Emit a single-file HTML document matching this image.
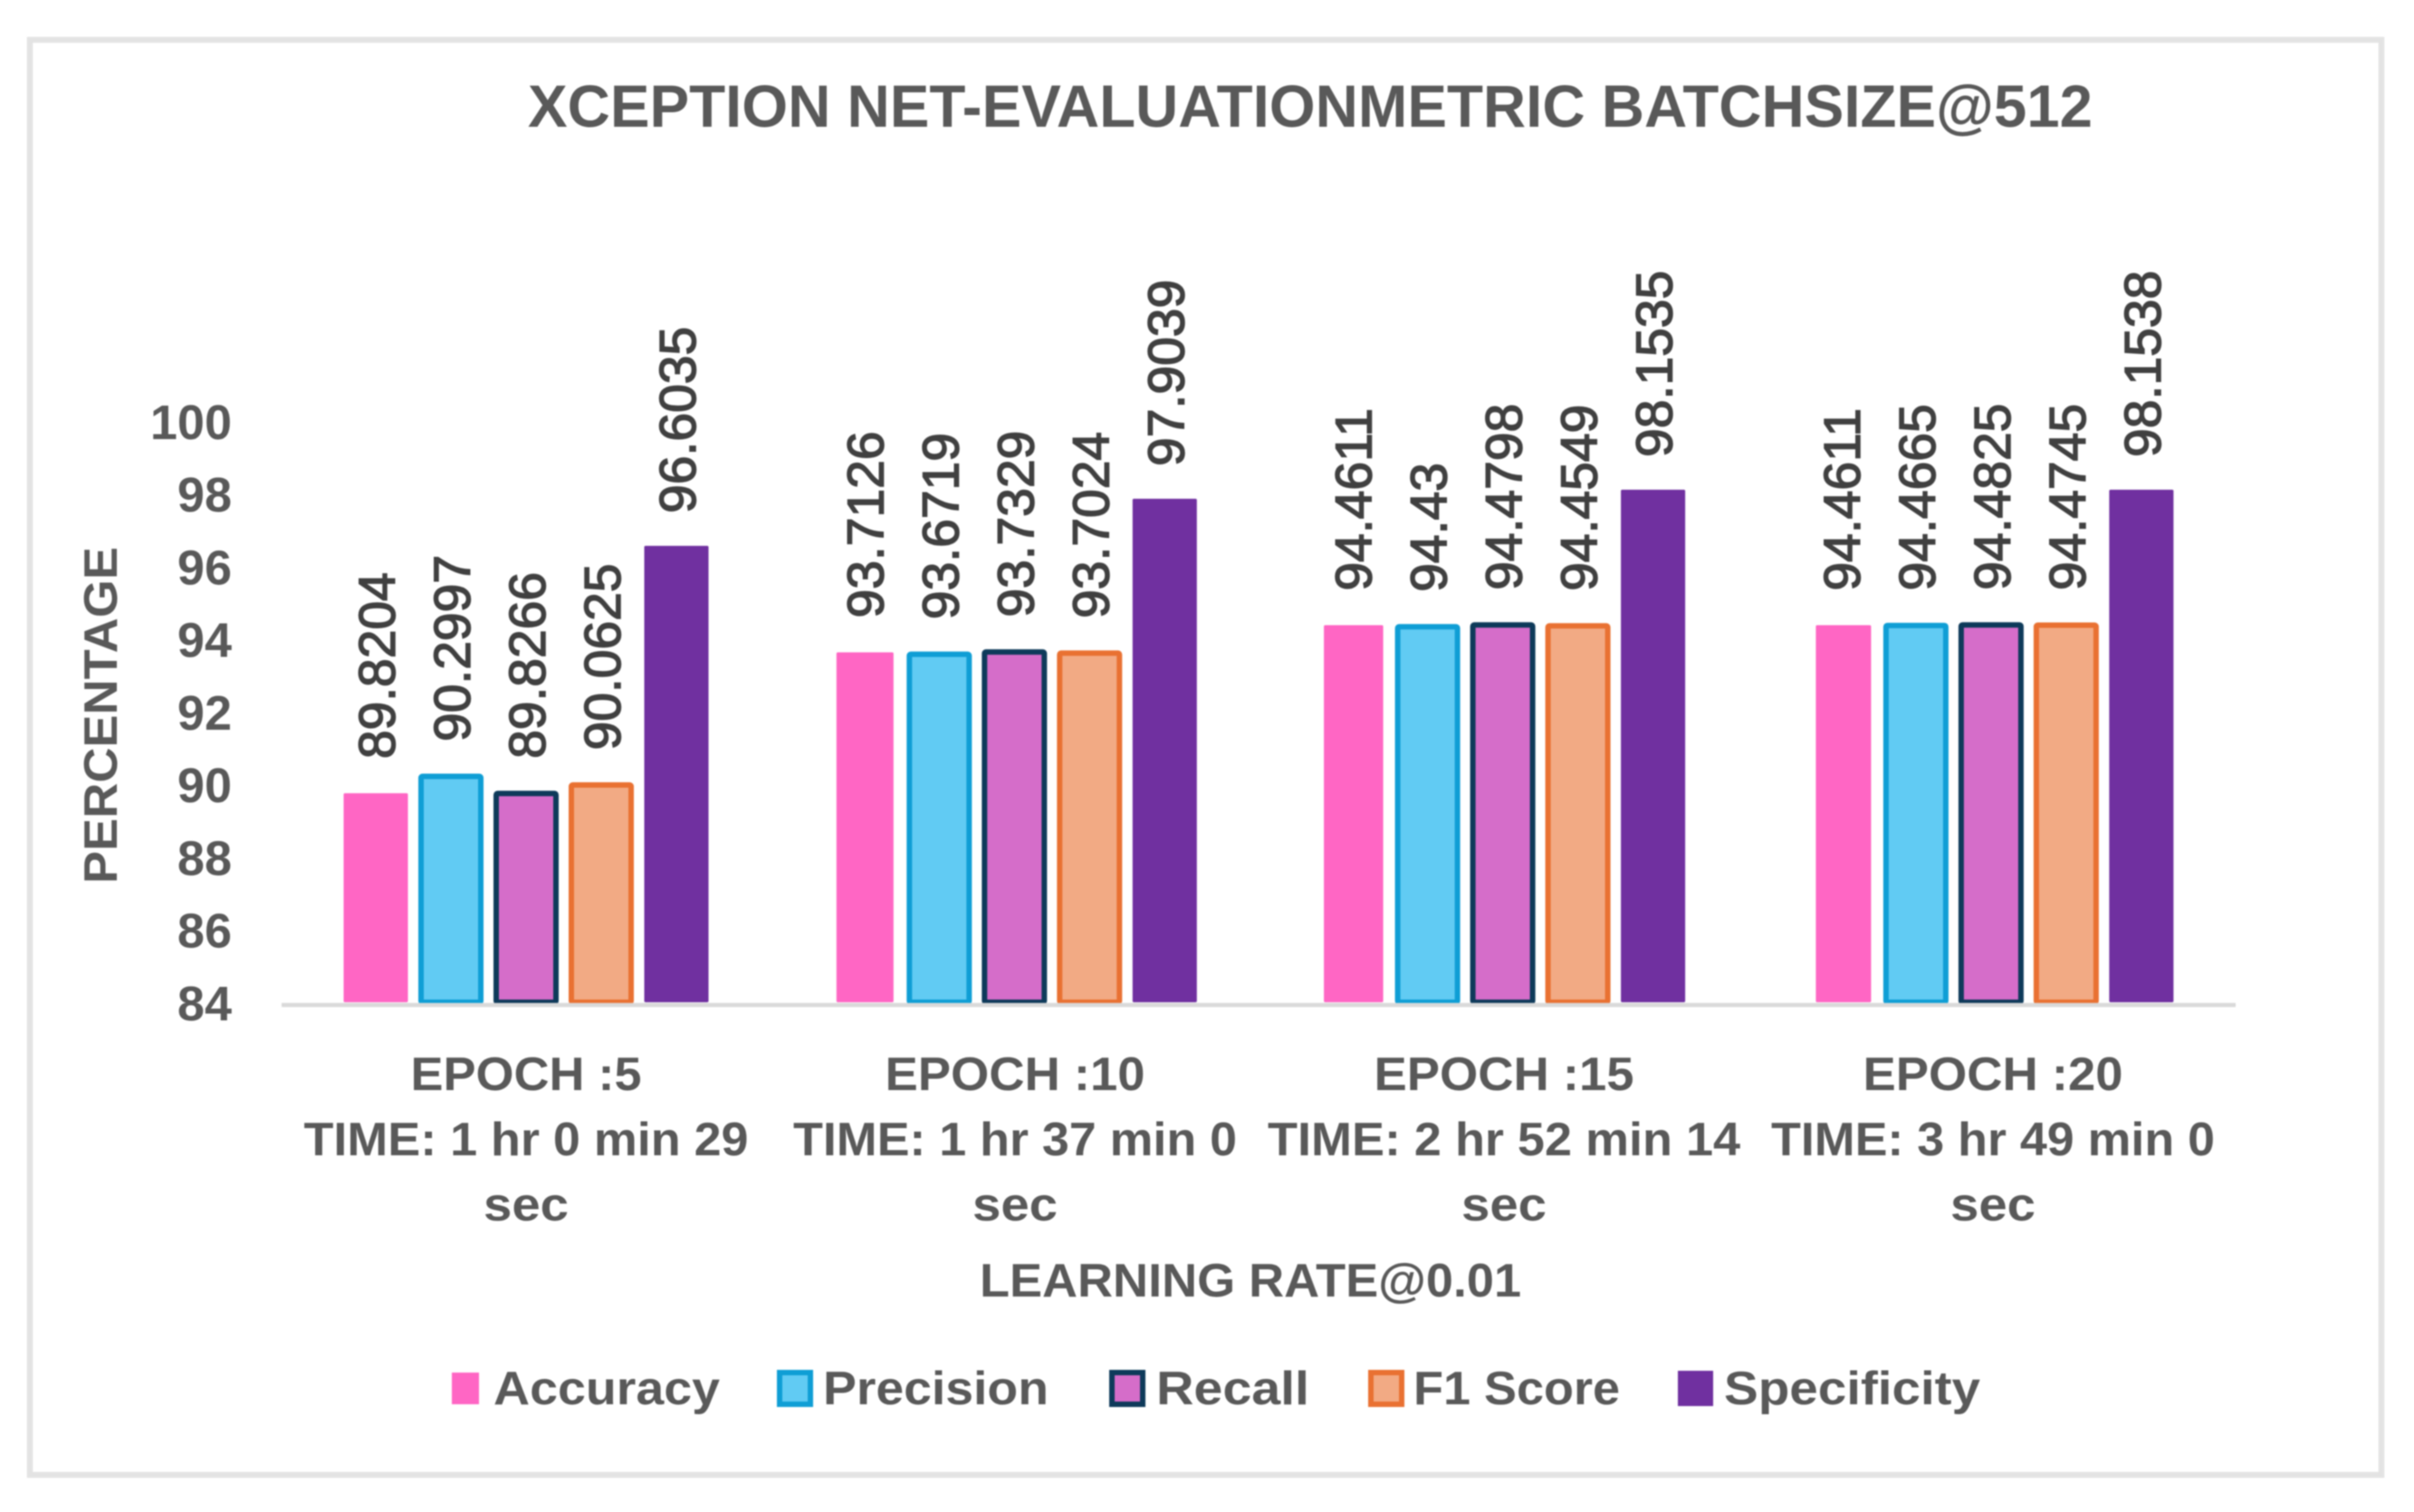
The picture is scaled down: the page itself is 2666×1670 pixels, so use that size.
<!DOCTYPE html>
<html lang="en">
<head>
<meta charset="utf-8">
<title>Xception Net evaluation metric chart</title>
<style>
  html, body { margin: 0; padding: 0; background: #fff; }
  body { width: 2666px; height: 1670px; overflow: hidden; }
  svg { display: block; filter: blur(0.9px); }
  text { font-family: "Liberation Sans", sans-serif; fill: #595959; font-weight: 700; }
  .data-label { font-weight: 400; fill: #404040; stroke: #404040; stroke-width: 1.5px; font-size: 57px; }
</style>
</head>
<body>
<svg id="chart" xmlns="http://www.w3.org/2000/svg" width="2666" height="1670" viewBox="0 0 2666 1670">
  <rect x="0" y="0" width="2666" height="1670" fill="#ffffff"/>
  <rect x="33" y="44" width="2597" height="1585" fill="#ffffff" stroke="#e3e3e3" stroke-width="6.5"/>
  <text x="583" y="140" font-size="66" textLength="1728" lengthAdjust="spacingAndGlyphs">XCEPTION NET-EVALUATIONMETRIC BATCHSIZE@512</text>
  <text transform="translate(129 976) rotate(-90)" font-size="52" textLength="372" lengthAdjust="spacingAndGlyphs">PERCENTAGE</text>
  <text x="1082" y="1432" font-size="52" textLength="598" lengthAdjust="spacingAndGlyphs">LEARNING RATE@0.01</text>
  <g id="y-ticks"></g>
  <g id="bars"></g>
  <g id="labels"></g>
  <line x1="311" y1="1110" x2="2469" y2="1110" stroke="#d9d9d9" stroke-width="4.5"/>
  <g id="x-ticks"></g>
  <g>
    <g>
      <rect x="499" y="1516" width="30" height="35" fill="#ff66c4"/>
      <text x="545" y="1551" font-size="52" textLength="250" lengthAdjust="spacingAndGlyphs">Accuracy</text>
    </g>
    <g>
      <rect x="861" y="1516" width="34" height="35" fill="#61cbf3" stroke="#0f9ed5" stroke-width="6"/>
      <text x="909" y="1551" font-size="52" textLength="249" lengthAdjust="spacingAndGlyphs">Precision</text>
    </g>
    <g>
      <rect x="1228" y="1516" width="34" height="35" fill="#d56dc9" stroke="#0e3a5a" stroke-width="6"/>
      <text x="1277" y="1551" font-size="52" textLength="169" lengthAdjust="spacingAndGlyphs">Recall</text>
    </g>
    <g>
      <rect x="1514" y="1516" width="34" height="35" fill="#f2aa84" stroke="#e97132" stroke-width="6"/>
      <text x="1561" y="1551" font-size="52" textLength="228" lengthAdjust="spacingAndGlyphs">F1 Score</text>
    </g>
    <g>
      <rect x="1853" y="1514" width="39" height="39" fill="#7030a0"/>
      <text x="1904" y="1551" font-size="52" textLength="283" lengthAdjust="spacingAndGlyphs">Specificity</text>
    </g>
  </g>
</svg>
<script>
const epochLabels = ["EPOCH :5", "EPOCH :10", "EPOCH :15", "EPOCH :20"];
const timeLabels = ["TIME: 1 hr 0 min 29", "TIME: 1 hr 37 min 0", "TIME: 2 hr 52 min 14", "TIME: 3 hr 49 min 0"];
const secLabel = "sec";
const yTickLabels = [84, 86, 88, 90, 92, 94, 96, 98, 100];
const accuracy = [89.8204, 93.7126, 94.4611, 94.4611];
const precision = [90.2997, 93.6719, 94.43, 94.4665];
const recall = [89.8266, 93.7329, 94.4798, 94.4825];
const f1Score = [90.0625, 93.7024, 94.4549, 94.4745];
const specificity = [96.6035, 97.9039, 98.1535, 98.1538];

const NS = "http://www.w3.org/2000/svg";
function yScale(v) { return 1107 - (v - 84) * 40; }
function groupCenter(i) { return 581 + i * 539.3; }
function slotCenter(i, s) { return groupCenter(i) + (s - 2) * 83; }
function labelCenter(i) { return 581 + i * 540; }
function make(tag, attrs, text) {
  const node = document.createElementNS(NS, tag);
  for (const k in attrs) node.setAttribute(k, attrs[k]);
  if (text !== undefined) node.textContent = text;
  return node;
}

const seriesList = [
  { key: "accuracy", values: accuracy, fill: "#ff66c4", stroke: null },
  { key: "precision", values: precision, fill: "#61cbf3", stroke: "#0f9ed5" },
  { key: "recall", values: recall, fill: "#d56dc9", stroke: "#0e3a5a" },
  { key: "f1-score", values: f1Score, fill: "#f2aa84", stroke: "#e97132" },
  { key: "specificity", values: specificity, fill: "#7030a0", stroke: null }
];

const yGroup = document.getElementById("y-ticks");
yTickLabels.forEach(function (t) {
  const tick = make("text", { x: 256, y: yScale(t) + 18 + (100 - t) * 0.12, "text-anchor": "end", "font-size": 54 }, String(t));
  
  
  yGroup.appendChild(tick);
});

const barGroup = document.getElementById("bars");
const labelGroup = document.getElementById("labels");
const pinkLeftTrim = [0, 5, 4, 8];
const pinkRightTrim = [0, 3, 1.5, 2];
const halfWidth = 35.5;
seriesList.forEach(function (series, s) {
  series.values.forEach(function (v, i) {
    const cx = slotCenter(i, s);
    const top = yScale(v);
    let left = cx - halfWidth;
    let width = halfWidth * 2;
    let barTop = top;
    if (s === 0) {
      left += pinkLeftTrim[i];
      width -= pinkLeftTrim[i] + pinkRightTrim[i];
      barTop += 2;
    }
    const inset = series.stroke ? 2.5 : 0;
    const bar = make("rect", {
      x: left + inset, y: barTop + inset,
      width: width - inset * 2, height: 1107 - barTop - inset,
      fill: series.fill, rx: 1.5
    });
    if (series.stroke) {
      bar.setAttribute("stroke", series.stroke);
      bar.setAttribute("stroke-width", 6);
    }
    
    
    barGroup.appendChild(bar);

    const lx = cx + 21;
    const ly = top - 36;
    const label = make("text", { class: "data-label", transform: "translate(" + lx + " " + ly + ") rotate(-90)" }, String(v));
    
    
    labelGroup.appendChild(label);
  });
});

const xGroup = document.getElementById("x-ticks");
const timeWidths = [491, 490, 522, 490];
epochLabels.forEach(function (name, i) {
  const cx = labelCenter(i);
  const epoch = make("text", { x: cx, y: 1204, "text-anchor": "middle", "font-size": 52, textLength: i === 0 ? 255 : 287, lengthAdjust: "spacingAndGlyphs" }, name);
  
  
  xGroup.appendChild(epoch);
  const time = make("text", { x: cx, y: 1276, "text-anchor": "middle", "font-size": 52, textLength: timeWidths[i], lengthAdjust: "spacingAndGlyphs" }, timeLabels[i]);
  
  
  xGroup.appendChild(time);
  const sec = make("text", { x: cx, y: 1348, "text-anchor": "middle", "font-size": 52, textLength: 94, lengthAdjust: "spacingAndGlyphs" }, secLabel);
  
  
  xGroup.appendChild(sec);
});
</script>
</body>
</html>
